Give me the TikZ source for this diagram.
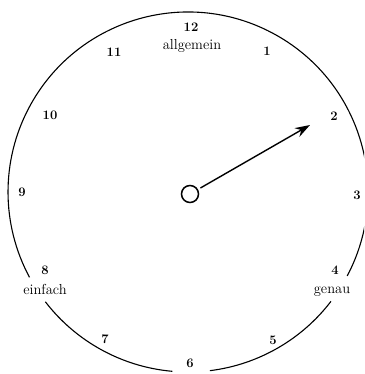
\documentclass[tikz,border=0pt]{standalone}
\usetikzlibrary{arrows.meta}
\begin{document}
\begin{tikzpicture}[x=1pt,y=1pt,
  num/.style={font=\fontsize{13}{15}\selectfont\bfseries, inner sep=0pt},
  word/.style={font=\fontsize{14.5}{16}\selectfont, inner sep=0pt},
  rim/.style={line width=1.1pt},
  hand/.style={line width=1.4pt, -{Stealth[length=15pt,width=10pt]}}]
\useasboundingbox (0,0) rectangle (364,374);
\clip (0,0) rectangle (364,374);
\coordinate (c) at (188,182);
% dial rim with gaps
\draw[rim] ([shift={(217.6:180)}]c) arc[start angle=217.6, end angle=265, radius=180];
\draw[rim] ([shift={(277:180)}]c) arc[start angle=277, end angle=322.6, radius=180];
\draw[rim] ([shift={(332.2:180)}]c) arc[start angle=332.2, end angle=568.3, radius=180];
% numbers
\node[num] (n12) at (191,347) {12};
\node[word] (wa) at (192,328) {allgemein};
\node[num] (n11) at (114,322) {11};
\node[num] (n1) at (267,323) {1};
\node[num] (n10) at (50,259) {10};
\node[num] (n2) at (334,258) {2};
\node[num] (n9) at (22,182) {9};
\node[num] (n3) at (357,179) {3};
\node[num] (n8) at (45,104) {8};
\node[word] (we) at (45,85) {einfach};
\node[num] (n4) at (335,104) {4};
\node[word] (wg) at (332,82) {genau};
\node[num] (n7) at (105,35) {7};
\node[num] (n5) at (273,34) {5};
\node[num] (n6) at (190,11) {6};
% hub and hand
\node[draw, circle, line width=1.5pt, minimum size=17pt, inner sep=0pt] (hub) at (190,180) {};
\coordinate (tip) at (310,249);
\draw[hand, shorten <=12pt] (hub.center) -- (tip);
\end{tikzpicture}
\end{document}
